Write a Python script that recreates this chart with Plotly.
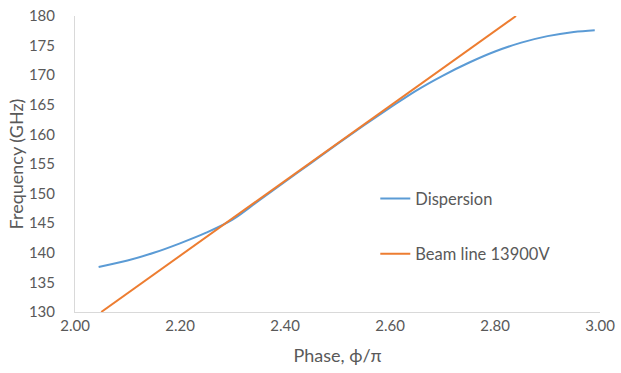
import plotly.graph_objects as go

phase_disp = [2.045, 2.10, 2.15, 2.20, 2.25, 2.30, 2.35, 2.40, 2.45, 2.50, 2.55,
              2.60, 2.65, 2.70, 2.75, 2.80, 2.85, 2.90, 2.95, 2.99]
freq_disp = [137.6, 138.7, 140.0, 141.6, 143.4, 145.6, 148.8, 152.0, 155.2, 158.4, 161.5,
             164.5, 167.4, 169.9, 172.1, 174.0, 175.5, 176.6, 177.3, 177.6]

phase_beam = [2.05, 2.84]
freq_beam = [130.0, 180.0]

x_ticks = [2.0, 2.2, 2.4, 2.6, 2.8, 3.0]
y_ticks = [130, 135, 140, 145, 150, 155, 160, 165, 170, 175, 180]

FONT = "Lato"
GREY = "#595959"

fig = go.Figure()
fig.add_trace(go.Scatter(x=phase_disp, y=freq_disp, mode="lines", name="Dispersion",
                         line=dict(color="#5B9BD5", width=2, shape="spline"),
                         legendgroup="a"))
fig.add_trace(go.Scatter(x=phase_beam, y=freq_beam, mode="lines", name="Beam line 13900V",
                         line=dict(color="#ED7D31", width=2),
                         legendgroup="b"))

fig.update_layout(
    width=621, height=373,
    margin=dict(l=75, r=21, t=16, b=61),
    paper_bgcolor="white", plot_bgcolor="white",
    font=dict(family=FONT, size=15, color=GREY),
    legend=dict(x=0.572, y=0.442, xanchor="left", yanchor="top",
                bgcolor="rgba(0,0,0,0)", font=dict(family=FONT, size=16.5, color=GREY),
                traceorder="grouped", tracegroupgap=31, itemwidth=30),
    xaxis=dict(range=[2.0, 3.0], tickvals=x_ticks, ticktext=[f"{v:.2f}" for v in x_ticks],
               showgrid=False, zeroline=False, showline=True, linecolor="#D9D9D9",
               linewidth=1, ticks="", automargin=False,
               tickfont=dict(family=FONT, size=15, color=GREY),
               title=dict(text="Phase, ϕ/π", standoff=16,
                          font=dict(family=FONT, size=18, color=GREY))),
    yaxis=dict(range=[130, 180], tickvals=y_ticks,
               showgrid=False, zeroline=False, showline=True, linecolor="#D9D9D9",
               linewidth=1, ticks="", ticklabelstandoff=16, automargin=False,
               tickfont=dict(family=FONT, size=15, color=GREY),
               title=dict(text="Frequency (GHz)", standoff=0,
                          font=dict(family=FONT, size=18, color=GREY))),
)

fig.write_html("out.html")
